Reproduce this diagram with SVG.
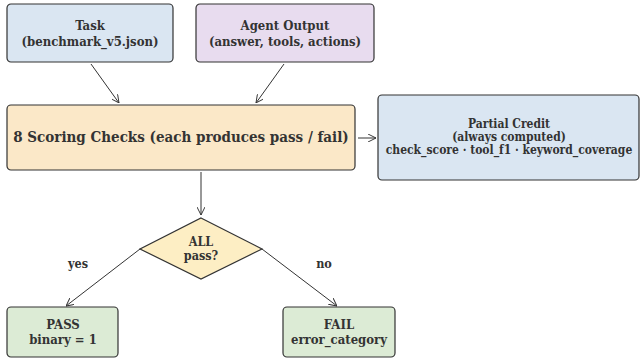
<svg xmlns="http://www.w3.org/2000/svg" width="640" height="358" viewBox="0 0 640 358">
<style>
.b{stroke:#333;stroke-width:1.2}
.t{font-family:"DejaVu Serif Condensed","DejaVu Serif",serif;font-weight:bold;fill:#333;text-anchor:middle}
.c{stroke:#333;stroke-width:1;fill:none;marker-end:url(#a)}
</style>
<defs>
<marker id="a" viewBox="0 0 10 10" refX="10" refY="5" markerWidth="8" markerHeight="8" orient="auto" markerUnits="userSpaceOnUse">
<path d="M0,0 L10,5 L0,10" fill="none" stroke="#333" stroke-width="1.2"/>
</marker>
</defs>
<rect width="640" height="358" fill="#fff"/>
<g id="task"><rect class="b" x="7" y="4" width="166" height="58" rx="4" fill="#dae6f2"/>
<text class="t" x="90" y="30" font-size="13">Task</text><text class="t" x="90" y="46" font-size="13">(benchmark_v5.json)</text></g>
<g id="agent"><rect class="b" x="196" y="4" width="178" height="58" rx="4" fill="#e8dcef"/>
<text class="t" x="285" y="30" font-size="13">Agent Output</text><text class="t" x="285" y="46" font-size="13">(answer, tools, actions)</text></g>
<g id="checks"><rect class="b" x="7" y="105" width="348" height="65" rx="4" fill="#fbe8c8"/>
<text class="t" x="181" y="142" font-size="15">8 Scoring Checks (each produces pass / fail)</text></g>
<g id="partial"><rect class="b" x="378" y="95" width="261" height="85" rx="4" fill="#dae6f2"/>
<text class="t" x="509" y="128" font-size="12">Partial Credit</text><text class="t" x="509" y="141" font-size="12">(always computed)</text><text class="t" x="509" y="154" font-size="12">check_score · tool_f1 · keyword_coverage</text></g>
<g id="decision"><polygon class="b" points="201,218 262,249 201,279 140,249" fill="#fdeec4"/>
<text class="t" x="201" y="246" font-size="12.5">ALL</text><text class="t" x="201" y="259.5" font-size="12.5">pass?</text></g>
<g id="pass"><rect class="b" x="7" y="307" width="111" height="50" rx="4" fill="#dcebd5"/>
<text class="t" x="63" y="329" font-size="13">PASS</text><text class="t" x="63" y="343.5" font-size="13">binary = 1</text></g>
<g id="fail"><rect class="b" x="283" y="307" width="112" height="50" rx="4" fill="#dcebd5"/>
<text class="t" x="339" y="329" font-size="13">FAIL</text><text class="t" x="339" y="343.5" font-size="13">error_category</text></g>
<g id="connectors">
<line class="c" x1="91" y1="64" x2="119" y2="103"/>
<line class="c" x1="284" y1="64" x2="256" y2="103"/>
<line class="c" x1="358" y1="138" x2="376" y2="138"/>
<line class="c" x1="201" y1="172" x2="201" y2="215"/>
<line class="c" x1="140" y1="249" x2="66" y2="306"/>
<line class="c" x1="262" y1="249" x2="337" y2="306"/>
<text class="t" x="78" y="268" font-size="12.5">yes</text>
<text class="t" x="324" y="268" font-size="12.5">no</text>
</g>
</svg>
